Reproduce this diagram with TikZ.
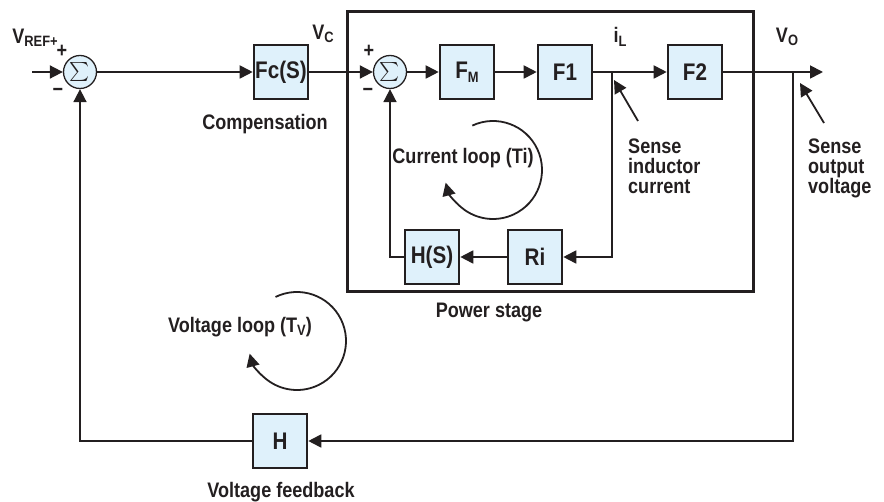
\documentclass[tikz,border=0pt]{standalone}
\usepackage{fontspec}
\setmainfont{Liberation Sans}[FakeStretch=0.86]
\usetikzlibrary{arrows.meta}
\definecolor{boxblue}{HTML}{DFF1FB}
\definecolor{ink}{HTML}{231F20}
\newcommand{\subtx}[1]{\raisebox{-3.5pt}{\fontsize{15}{15}\selectfont #1}}
\begin{document}
\begin{tikzpicture}[x=1pt,y=-1pt,
  every node/.style={font=\bfseries\fontsize{21}{21}\selectfont, text=ink, inner sep=0pt},
  blk/.style={draw=ink, fill=boxblue, line width=2.6pt, minimum width=54pt, minimum height=54pt, font=\bfseries\fontsize{24}{24}\selectfont},
  sumc/.style={circle, draw=ink, fill=boxblue, line width=1.3pt, minimum size=33pt},
  wire/.style={draw=ink, line width=1.8pt},
  tipA/.style={-{Triangle[length=13pt,width=13pt]}},
  arr/.style={wire, tipA},
  lbl/.style={align=left, font=\bfseries\fontsize{21}{20}\selectfont},
]
\useasboundingbox (0,0) rectangle (884,502);

% power stage frame
\draw[ink, line width=3pt] (347,12) rectangle (753,292);

% summing junctions
\node[sumc] (s1) at (80,72) {\scalebox{1.9}{$\sum$}};
\node[sumc] (s2) at (390,72) {\scalebox{1.9}{$\sum$}};

% blocks
\node[blk] (fc) at (281,72) {Fc(S)};
\node[blk] (fm) at (467,72) {F\subtx{M}};
\node[blk] (f1) at (565,72) {F1};
\node[blk] (f2) at (695,72) {F2};
\node[blk] (ri) at (535,257) {Ri};
\node[blk] (hs) at (432,257) {H(S)};
\node[blk] (h) at (280,441) {H};

% coordinates
\coordinate (in) at (32,72);
\coordinate (jL) at (612,72);
\coordinate (jV) at (793,72);
\coordinate (out) at (823,72);
\coordinate (sa1) at (638,121);
\coordinate (sa1t) at (614,80);
\coordinate (sa2) at (824,123);
\coordinate (sa2t) at (800,83);

% connectors
\draw[arr] (in) -- (s1);
\draw[arr] (s1) -- (fc);
\draw[arr] (fc) -- (s2);
\draw[arr] (s2) -- (fm);
\draw[arr] (fm) -- (f1);
\draw[arr] (f1) -- (f2);
\draw[arr] (f2) -- (out);
\draw[arr] (jL) |- (ri);
\draw[arr] (ri) -- (hs);
\draw[arr] (hs.west) -| (s2.south);
\draw[arr] (jV) |- (h);
\draw[arr] (h.west) -| (s1.south);
\draw[arr] (sa1) -- (sa1t);
\draw[arr] (sa2) -- (sa2t);

% loops
\draw[arr] (493,170) ++(-115:49) arc[start angle=-115, end angle=165, radius=49];
\draw[arr] (297,341) ++(-116:49) arc[start angle=-116, end angle=165, radius=49];

% labels
\node (vref) at (35,38) {V\subtx{REF+}};
\node (p1) at (62,51) {+};
\node (m1) at (58,92) {−};
\node (p2) at (369,51) {+};
\node (m2) at (368,92) {−};
\node (vc) at (323,34) {V\subtx{C}};
\node (il) at (620,37) {i\subtx{L}};
\node (vo) at (787,37) {V\subtx{O}};
\node (comp) at (265,124) {Compensation};
\node (pst) at (489,313) {Power stage};
\node (cl) at (463,158) {Current loop (Ti)};
\node (vl) at (240,327) {Voltage loop (T\subtx{V})};
\node (vf) at (281,492) {Voltage feedback};
\node[lbl, anchor=north west] (sic) at (628,139) {Sense\\inductor\\current};
\node[lbl, anchor=north west] (sov) at (808,139) {Sense\\output\\voltage};
\end{tikzpicture}
\end{document}
